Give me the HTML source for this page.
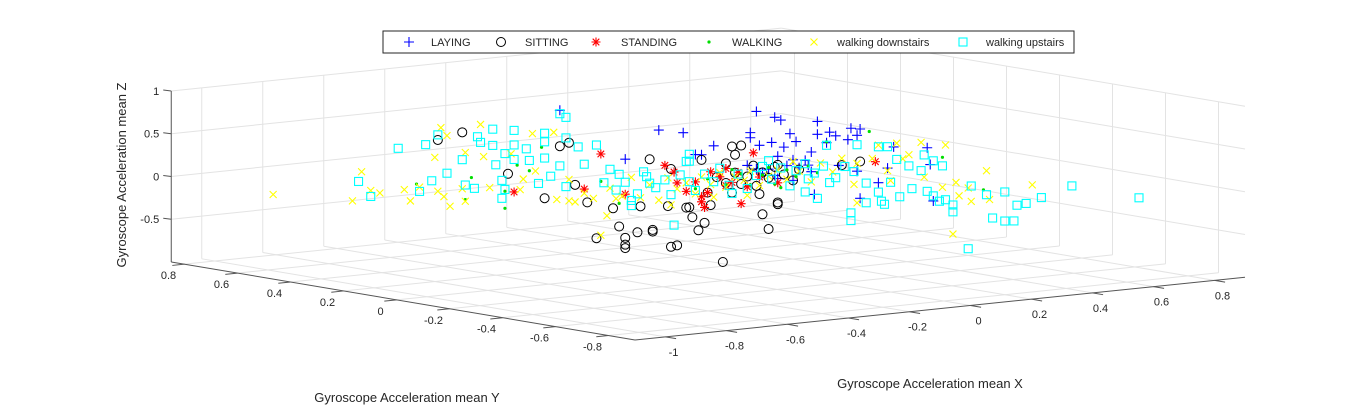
<!DOCTYPE html>
<html><head><meta charset="utf-8"><style>
html,body{margin:0;padding:0;background:#fff;}
svg{display:block;font-family:"Liberation Sans",Arial,sans-serif;}
</style></head><body>
<svg id="chart" width="1366" height="407" viewBox="0 0 1366 407" xmlns="http://www.w3.org/2000/svg">
<g id="grid"></g>
<g id="axes"></g>
<g id="marks"></g>
<text x="0" y="0" transform="translate(126,175) rotate(-90)" text-anchor="middle" font-size="13" fill="#262626">Gyroscope Acceleration mean Z</text>
<text x="407" y="402" text-anchor="middle" font-size="13" fill="#262626">Gyroscope Acceleration mean Y</text>
<text x="930" y="388" text-anchor="middle" font-size="13" fill="#262626">Gyroscope Acceleration mean X</text>
<g id="legend">
<rect x="383" y="31" width="691" height="22" fill="#fff" stroke="#262626" stroke-width="1"/>
</g>
</svg>
<script>
const xTicks=[-1,-0.8,-0.6,-0.4,-0.2,0,0.2,0.4,0.6,0.8];
const yTicks=[-0.8,-0.6,-0.4,-0.2,0,0.2,0.4,0.6,0.8];
const zTicks=[-0.5,0,0.5,1];
const zGrid=[-0.5,0,0.5,1];
const xLabels=["-1","-0.8","-0.6","-0.4","-0.2","0","0.2","0.4","0.6","0.8"];
const yLabels=["-0.8","-0.6","-0.4","-0.2","0","0.2","0.4","0.6","0.8"];
const zLabels=["-0.5","0","0.5","1"];
const seriesNames=["LAYING","SITTING","STANDING","WALKING","walking downstairs","walking upstairs"];
const laying=[[-0.13,0.5,0.60],[-0.24,0,0.67],[-0.16,0,0.61],[0.08,0,0.77],[0.14,0,0.68],[0.16,0,0.64],[0.28,0,0.58],[-0.06,0,0.42],[0.06,0,0.53],[0.06,0,0.47],[0.19,0,0.47],[0.28,0,0.43],[0.32,0,0.44],[0.39,0,0.46],[0.42,0,0.44],[-0.35,0,0.37],[0.09,0,0.37],[0.13,0,0.39],[0.17,0,0.32],[0.21,0,0.37],[0.31,0,0.32],[0.34,0,0.39],[0.38,0,0.33],[0.41,0,0.37],[0.15,0,0.22],[0.20,0,0.16],[0.24,0,0.14],[0.26,0,0.23],[0.20,0,-0.08],[0.26,0,0.00],[0.27,0,-0.27],[0.42,0,-0.37],[0.48,0,-0.21],[0.51,0,-0.05],[0.53,0,0.19],[0.64,0,0.14],[0.65,0,-0.06],[0.66,0,-0.49],[0.41,0,-0.05],[0.35,0,0.04],[0.05,0,0.15],[0.10,0,0.04],[0.14,0,0.00],[-0.10,0,0.33],[-0.12,0,0.34],[0.12,0,0.08],[0.18,0,0.10],[0.22,0,0.06],[0.08,0,0.10],[0.15,0,-0.04],[0.25,0,0.08]];
const sitting=[[-0.53,0.5,0.40],[-0.45,0.5,0.46],[-0.18,0.5,-0.41],[-0.30,0.5,-0.08],[-0.04,0.5,-0.51],[-0.08,0.5,-0.29],[-0.01,0.5,-0.94],[-0.13,0.5,0.18],[-0.10,0.5,0.21],[-0.37,0,-0.41],[-0.35,0,-0.55],[-0.31,0,-0.50],[-0.26,0,-0.49],[-0.26,0,-0.51],[-0.35,0,-0.63],[-0.35,0,-0.67],[-0.20,0,-0.71],[-0.18,0,-0.70],[-0.27,0,0.34],[-0.30,0,-0.20],[-0.39,0,-0.19],[-0.15,0,-0.27],[-0.13,0,-0.39],[-0.11,0,-0.55],[-0.20,0,0.20],[-0.10,0,0.27],[-0.02,0,0.20],[0.00,0,0.39],[0.03,0,0.39],[0.01,0,0.29],[-0.09,0,-0.47],[-0.14,0,-0.27],[0.10,0,-0.44],[0.12,0,-0.62],[-0.03,0,-0.95],[0.15,0,-0.32],[0.15,0,-0.34],[0.36,0,0.04],[0.42,0,0.06],[0.15,0,0.12],[0.09,0,-0.20],[-0.07,0,-0.27],[-0.21,0,-0.23],[-0.05,0,0.05],[-0.02,0,-0.03],[0.01,0,0.08],[0.03,0,-0.06],[0.05,0,0.02],[0.08,0,-0.10],[0.10,0,0.05],[0.12,0,-0.02],[0.14,0,0.10],[0.17,0,0.00],[0.20,0,-0.08],[0.07,0,0.14],[-0.08,0,-0.12],[0.22,0,0.04],[0.00,0,-0.15]];
const standing=[[-0.28,0.5,-0.30],[-0.05,0.5,-0.35],[-0.43,0,0.46],[-0.22,0,0.25],[-0.19,0,0.16],[0.07,0,0.29],[0.03,0,-0.29],[-0.09,0,-0.29],[-0.10,0,-0.22],[0.15,0,-0.09],[0.47,0,0.04],[-0.07,0,0.12],[-0.02,0,-0.06],[-0.35,0,-0.04],[-0.15,0,-0.08],[-0.12,0,0.02],[-0.08,0,-0.12],[-0.04,0,0.05],[0.00,0,-0.03],[0.02,0,0.08],[0.05,0,-0.10],[-0.18,0,0.03],[0.09,0,0.00],[-0.10,0,-0.16],[-0.02,0,0.14]];
const walking=[[-0.60,0.5,-0.09],[-0.42,0.5,-0.08],[-0.44,0.5,-0.33],[-0.31,0.5,-0.48],[-0.31,0.5,-0.28],[-0.27,0.5,0.01],[-0.23,0.5,-0.07],[-0.19,0.5,0.19],[-0.43,0,0.14],[-0.37,0,-0.14],[0.45,0,0.40],[0.69,0,0.01],[0.31,0,0.33],[0.39,-0.5,0.00],[-0.02,0,-0.05],[0.03,0,0.06],[0.06,0,-0.08],[0.10,0,0.02],[0.14,0,-0.10],[0.18,0,0.05],[0.21,0,-0.04],[0.25,0,0.07],[-0.08,0,0.04],[0.00,0,0.12],[0.12,0,0.10],[0.16,0,-0.15],[0.28,0,-0.02],[-0.12,0,-0.06]];
const downstairs=[[-1.07,0.5,-0.04],[-0.81,0.5,-0.21],[-0.78,0.5,0.12],[-0.75,0.5,-0.11],[-0.72,0.5,-0.15],[-0.64,0.5,-0.14],[-0.62,0.5,-0.28],[-0.59,0.5,-0.13],[-0.54,0.5,0.20],[-0.52,0.5,0.54],[-0.50,0.5,0.44],[-0.53,0.5,-0.20],[-0.51,0.5,-0.27],[-0.49,0.5,-0.39],[-0.45,0.5,-0.20],[-0.44,0.5,0.22],[-0.44,0.5,-0.35],[-0.39,0.5,0.53],[-0.38,0.5,0.15],[-0.36,0.5,-0.22],[-0.29,0.5,0.15],[-0.25,0.5,-0.16],[-0.26,0.5,-0.28],[-0.22,0.5,0.36],[-0.21,0.5,-0.08],[-0.15,0.5,0.35],[-0.14,0.5,-0.44],[-0.10,0.5,-0.47],[-0.08,0.5,-0.49],[-0.10,0.5,-0.22],[-0.05,0.5,-0.40],[-0.02,0.5,-0.47],[-0.43,0,-0.49],[-0.41,0,-0.27],[-0.38,0,-0.08],[0.48,0,0.23],[0.54,0,0.23],[0.62,0,0.21],[0.70,0,0.15],[0.69,0,-0.34],[0.63,0,-0.20],[0.56,0,0.04],[0.58,0,0.08],[0.40,0,-0.20],[0.41,0,0.04],[0.51,0,-0.08],[0.52,0,-0.20],[0.41,0,-0.42],[0.46,0,0.08],[0.30,-0.5,0.12],[0.40,-0.5,0.22],[0.34,-0.5,0.04],[0.35,-0.5,-0.12],[0.41,-0.5,-0.12],[0.31,-0.5,-0.04],[0.29,-0.5,-0.48],[0.55,-0.5,0.00],[-0.40,0,0.05],[-0.36,0,-0.06],[-0.33,0,0.15],[-0.30,0,-0.10],[-0.27,0,0.04],[-0.24,0,-0.15],[-0.21,0,0.10],[-0.18,0,-0.04],[-0.15,0,0.02],[-0.12,0,-0.12],[-0.10,0,0.07],[-0.07,0,-0.03],[-0.04,0,0.10],[-0.02,0,-0.08],[0.01,0,0.03],[0.04,0,-0.02],[0.06,0,0.08],[0.09,0,-0.10],[0.12,0,0.00],[0.15,0,0.06],[0.18,0,-0.06],[0.22,0,0.02],[0.26,0,-0.12],[0.29,0,0.09],[0.33,0,-0.03],[0.36,0,0.12],[-0.06,0,-0.18],[0.05,0,-0.20],[-0.20,0,-0.22],[0.20,0,0.14]];
const upstairs=[[-0.66,0.5,0.35],[-0.57,0.5,0.36],[-0.53,0.5,0.46],[-0.79,0.5,0.01],[-0.75,0.5,-0.18],[-0.59,0.5,-0.18],[-0.55,0.5,-0.07],[-0.50,0.5,0.00],[-0.41,0.5,-0.21],[-0.44,0.5,-0.16],[-0.45,0.5,0.14],[-0.40,0.5,0.39],[-0.39,0.5,0.32],[-0.35,0.5,0.46],[-0.35,0.5,0.27],[-0.34,0.5,0.04],[-0.32,0.5,-0.15],[-0.31,0.5,-0.26],[-0.32,0.5,-0.36],[-0.31,0.5,0.16],[-0.28,0.5,0.08],[-0.28,0.5,0.42],[-0.28,0.5,0.25],[-0.24,0.5,0.19],[-0.23,0.5,0.05],[-0.18,0.5,0.35],[-0.18,0.5,0.06],[-0.18,0.5,0.25],[-0.20,0.5,-0.23],[-0.16,0.5,-0.16],[-0.13,0.5,0.56],[-0.11,0.5,0.51],[-0.13,0.5,-0.05],[-0.11,0.5,0.27],[-0.11,0.5,-0.30],[-0.07,0.5,0.15],[-0.05,0.5,-0.06],[-0.01,0.5,0.15],[-0.40,0,0.27],[-0.37,0,0.20],[-0.33,0,-0.18],[-0.29,0,0.20],[-0.27,0,0.06],[-0.19,0,-0.46],[-0.15,0,0.27],[-0.14,0,0.35],[-0.14,0,0.27],[0.31,0,0.29],[0.41,0,0.26],[0.48,0,0.21],[0.51,0,0.20],[0.54,0,0.04],[0.58,0,-0.05],[0.62,0,-0.12],[0.63,0,0.06],[0.66,0,-0.02],[0.69,0,-0.09],[0.70,0,-0.49],[0.68,0,-0.50],[0.39,0,-0.53],[0.39,0,-0.62],[0.49,0,-0.43],[0.50,0,-0.47],[0.55,0,-0.40],[0.59,0,-0.32],[0.64,0,-0.37],[0.66,0,-0.43],[0.44,0,-0.20],[0.48,0,-0.32],[0.52,0,-0.22],[0.44,0,-0.43],[0.28,0,-0.32],[0.32,0,-0.15],[0.24,0,-0.23],[0.25,0,-0.08],[0.29,-0.5,-0.14],[0.29,-0.5,-0.22],[0.35,-0.5,0.06],[0.40,-0.5,-0.06],[0.46,-0.5,-0.05],[0.50,-0.5,-0.22],[0.53,-0.5,-0.21],[0.58,-0.5,-0.16],[0.68,-0.5,-0.06],[0.90,-0.5,-0.28],[0.42,-0.5,-0.34],[0.46,-0.5,-0.39],[0.49,-0.5,-0.40],[0.34,-0.5,-0.67],[-0.42,0,0.12],[-0.38,0,0.02],[-0.35,0,0.10],[-0.31,0,-0.05],[-0.28,0,0.14],[-0.25,0,0.00],[-0.22,0,0.08],[-0.20,0,-0.10],[-0.17,0,0.12],[-0.14,0,0.03],[-0.12,0,-0.08],[-0.09,0,0.10],[-0.06,0,0.00],[-0.04,0,0.15],[-0.01,0,-0.06],[0.02,0,0.06],[0.05,0,-0.12],[0.08,0,0.02],[0.10,0,0.12],[0.13,0,-0.04],[0.16,0,0.08],[0.19,0,-0.14],[0.21,0,0.03],[0.24,0,0.10],[0.27,0,-0.02],[0.30,0,0.05],[0.34,0,-0.10],[0.37,0,0.02],[0.40,0,-0.05],[-0.33,0,-0.12],[0.00,0,-0.16],[0.12,0,0.18]];

const NS="http://www.w3.org/2000/svg";
const XMIN=-1.1,XMAX=0.9,YMIN=-0.9,YMAX=0.85,ZMIN=-1,ZMAX=1;
function P(x,y,z){
  return [635+(x-XMIN)*305-(y-YMIN)*265, 340-(x-XMIN)*31.4-(y-YMIN)*44.6-(z-ZMIN)*85.5];
}
function mk(tag,attrs,parent){const e=document.createElementNS(NS,tag);for(const k in attrs)e.setAttribute(k,attrs[k]);parent.appendChild(e);return e;}
const grid=document.getElementById('grid'),axes=document.getElementById('axes'),marks=document.getElementById('marks');
function line(p,q,parent,col,w){return mk('line',{x1:p[0],y1:p[1],x2:q[0],y2:q[1],stroke:col,'stroke-width':w},parent);}
const GC="#e3e3e3";
// floor grid
xTicks.forEach(x=>{const l=line(P(x,YMIN,ZMIN),P(x,YMAX,ZMIN),grid,GC,1);


const v=line(P(x,YMAX,ZMIN),P(x,YMAX,ZMAX),grid,GC,1);

});
yTicks.forEach(y=>{const l=line(P(XMIN,y,ZMIN),P(XMAX,y,ZMIN),grid,GC,1);


const v=line(P(XMAX,y,ZMIN),P(XMAX,y,ZMAX),grid,GC,1);

});
zGrid.forEach(z=>{const a=line(P(XMIN,YMAX,z),P(XMAX,YMAX,z),grid,GC,1);


const b=line(P(XMAX,YMAX,z),P(XMAX,YMIN,z),grid,GC,1);

});
// axes
const AC="#555";
const xa=line(P(XMIN,YMIN,ZMIN),P(XMAX,YMIN,ZMIN),axes,AC,1);


const ya=line(P(XMIN,YMIN,ZMIN),P(XMIN,YMAX,ZMIN),axes,AC,1);


const za=line(P(XMIN,YMAX,ZMIN),P(XMIN,YMAX,ZMAX),axes,AC,1);


function txt(s,x,y,anchor,parent,size){const t=mk('text',{x:x,y:y,'text-anchor':anchor,'font-size':size||11,fill:'#262626'},parent);t.textContent=s;return t;}
xTicks.forEach((x,i)=>{const p=P(x,YMIN,ZMIN),q=P(x,YMIN-0.04,ZMIN);
const t=line(p,q,axes,AC,1);
const l=txt(xLabels[i],p[0]+8,p[1]+19,'middle',axes);

});
yTicks.forEach((y,i)=>{const p=P(XMIN,y,ZMIN),q=P(XMIN-0.04,y,ZMIN);
const t=line(p,q,axes,AC,1);
const l=txt(yLabels[i],p[0]-16,p[1]+15,'middle',axes);

});
zTicks.forEach((z,i)=>{const p=P(XMIN,YMAX,z);
const t=line(p,[p[0]-8,p[1]-1],axes,AC,1);
const l=txt(zLabels[i],p[0]-12,p[1]+4,'end',axes);

});
// markers
function marker(kind,cx,cy,parent){
  const g=mk('g',{},parent);
  if(kind==='plus'){mk('path',{d:`M${cx-5},${cy}H${cx+5}M${cx},${cy-5}V${cy+5}`,stroke:'#0000ff','stroke-width':1.1,fill:'none'},g);}
  else if(kind==='circle'){mk('circle',{cx:cx,cy:cy,r:4.5,stroke:'#000','stroke-width':1,fill:'none'},g);}
  else if(kind==='star'){mk('path',{d:`M${cx-4.5},${cy}H${cx+4.5}M${cx},${cy-4.5}V${cy+4.5}M${cx-3.3},${cy-3.3}L${cx+3.3},${cy+3.3}M${cx-3.3},${cy+3.3}L${cx+3.3},${cy-3.3}`,stroke:'#ff0000','stroke-width':1.1,fill:'none'},g);}
  else if(kind==='dot'){mk('circle',{cx:cx,cy:cy,r:1.6,fill:'#00dd00'},g);}
  else if(kind==='x'){mk('path',{d:`M${cx-3.5},${cy-3.5}L${cx+3.5},${cy+3.5}M${cx-3.5},${cy+3.5}L${cx+3.5},${cy-3.5}`,stroke:'#ffff00','stroke-width':1.1,fill:'none'},g);}
  else if(kind==='square'){mk('rect',{x:cx-4,y:cy-4,width:8,height:8,stroke:'#00ffff','stroke-width':1.1,fill:'none'},g);}
  return g;
}
const series=[[laying,'plus','laying'],[sitting,'circle','sitting'],[standing,'star','standing'],[walking,'dot','walking'],[downstairs,'x','walking-downstairs'],[upstairs,'square','walking-upstairs']];
series.forEach(([data,kind,nm])=>{
  const sg=mk('g',{},marks);
  
  
  data.forEach(d=>{const p=P(d[0],d[1],d[2]);const m=marker(kind,p[0],p[1],sg);
    
    });
});
// legend
const leg=document.getElementById('legend');
const legMarkX=[409,501,596,709,814,963];
const legTextX=[431,525,621,732,837,986];
series.forEach(([data,kind,nm],i)=>{
  const eg=mk('g',{},leg);
  
  
  marker(kind,legMarkX[i],42,eg);
  txt(seriesNames[i],legTextX[i],46,'start',eg,11);
});
</script>
</body></html>
